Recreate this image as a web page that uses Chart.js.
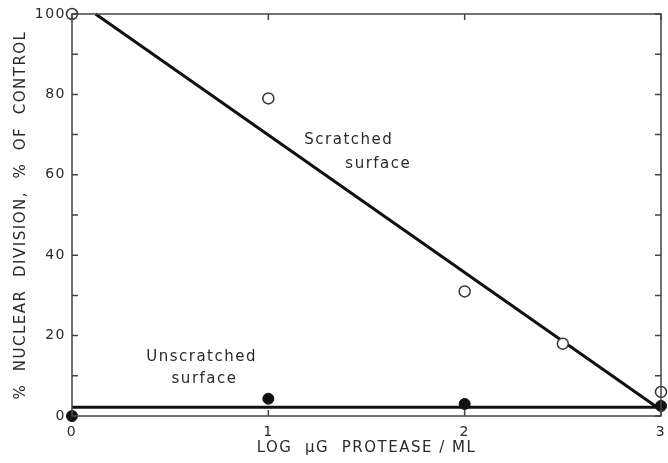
<!DOCTYPE html>
<html>
<head>
<meta charset="utf-8">
<script src="https://cdn.jsdelivr.net/npm/chart.js@4.4.1/dist/chart.umd.min.js"></script>
<style>
html,body{margin:0;padding:0;background:#fff;}
#wrap{width:668px;height:463px;position:relative;}
</style>
</head>
<body>
<div id="wrap"><canvas id="c" width="668" height="463"></canvas></div>
<script>
// Data
const scratchedX = [0, 1, 2, 2.5, 3];
const scratchedY = [100, 79, 31, 18, 6];
const unscratchedX = [0, 1, 2, 3];
const unscratchedY = [0, 4.3, 3, 2.5];
const scratchedFitX = [0.12, 3];
const scratchedFitY = [100, 1.5];
const unscratchedFitX = [0, 3];
const unscratchedFitY = [2.2, 2.2];
const xTicks = [0, 1, 2, 3];
const yTicks = [0, 20, 40, 60, 80, 100];
const yMinorTicks = [10, 30, 50, 70, 90];
const notes = [
  {text: 'Scratched', x: 1.41, y: 68.7},
  {text: 'surface', x: 1.56, y: 62.7},
  {text: 'Unscratched', x: 0.66, y: 14.7},
  {text: 'surface', x: 0.675, y: 9.2}
];

const INK = '#2a2a2a';
const FONT = '"DejaVu Sans", sans-serif';
const pts = (xs, ys) => xs.map((x, i) => ({x: x, y: ys[i]}));

const spacingPlugin = {
  id: 'spacing',
  beforeDraw(chart) { chart.ctx.letterSpacing = '1.5px'; }
};

const framePlugin = {
  id: 'frame',
  afterDatasetsDraw(chart) {
    const {ctx, chartArea: a, scales: {x, y}} = chart;
    ctx.save();
    ctx.strokeStyle = '#444';
    ctx.lineWidth = 1.5;
    ctx.strokeRect(a.left, a.top, a.right - a.left, a.bottom - a.top);
    const L = 6;
    ctx.beginPath();
    xTicks.forEach(v => {
      const px = x.getPixelForValue(v);
      ctx.moveTo(px, a.bottom); ctx.lineTo(px, a.bottom - L);
      ctx.moveTo(px, a.top); ctx.lineTo(px, a.top + L);
    });
    yTicks.concat(yMinorTicks).forEach(v => {
      const py = y.getPixelForValue(v);
      ctx.moveTo(a.left, py); ctx.lineTo(a.left + L, py);
      ctx.moveTo(a.right, py); ctx.lineTo(a.right - L, py);
    });
    ctx.stroke();
    ctx.fillStyle = INK;
    ctx.letterSpacing = '1.5px';
    ctx.font = '15px ' + FONT;
    ctx.textAlign = 'center';
    ctx.textBaseline = 'middle';
    notes.forEach(n => ctx.fillText(n.text, x.getPixelForValue(n.x), y.getPixelForValue(n.y)));
    ctx.restore();
  }
};

new Chart(document.getElementById('c'), {
  type: 'scatter',
  data: {
    datasets: [
      {label: 'Scratched fit', data: pts(scratchedFitX, scratchedFitY), showLine: true,
       borderColor: '#111', borderWidth: 3, pointRadius: 0, order: 3, clip: false},
      {label: 'Unscratched fit', data: pts(unscratchedFitX, unscratchedFitY), showLine: true,
       borderColor: '#111', borderWidth: 3, pointRadius: 0, order: 3, clip: false},
      {label: 'Scratched surface', data: pts(scratchedX, scratchedY), clip: false,
       pointRadius: 5.5, pointBackgroundColor: '#fff', pointBorderColor: '#333', pointBorderWidth: 1.5, order: 1},
      {label: 'Unscratched surface', data: pts(unscratchedX, unscratchedY), clip: false,
       pointRadius: 5.5, pointBackgroundColor: '#111', pointBorderColor: '#111', pointBorderWidth: 1, order: 1}
    ]
  },
  options: {
    responsive: false,
    animation: false,
    events: [],
    layout: {padding: {top: 14, right: 3, left: 0, bottom: 0}},
    plugins: {legend: {display: false}, tooltip: {enabled: false}},
    scales: {
      x: {
        type: 'linear', min: 0, max: 3,
        afterFit(s) { s.height = 47; s.paddingLeft = 0; s.paddingRight = 0; },
        afterBuildTicks(s) { s.ticks = xTicks.map(v => ({value: v})); },
        grid: {display: false, drawTicks: false},
        border: {display: false},
        ticks: {color: INK, font: {family: FONT, size: 14}, padding: 8},
        title: {display: true, text: 'LOG  μG  PROTEASE / ML', color: INK,
                font: {family: FONT, size: 15}, padding: {top: 0, bottom: 6}}
      },
      y: {
        type: 'linear', min: 0, max: 100,
        afterFit(s) { s.width = 72; s.paddingTop = 0; s.paddingBottom = 0; },
        afterBuildTicks(s) { s.ticks = yTicks.map(v => ({value: v})); },
        grid: {display: false, drawTicks: false},
        border: {display: false},
        ticks: {color: INK, font: {family: FONT, size: 14}, padding: 6},
        title: {display: true, text: '%  NUCLEAR  DIVISION,  %  OF  CONTROL', color: INK,
                font: {family: FONT, size: 15}, padding: {top: 12, bottom: 4}}
      }
    }
  },
  plugins: [spacingPlugin, framePlugin]
});
</script>
</body>
</html>
